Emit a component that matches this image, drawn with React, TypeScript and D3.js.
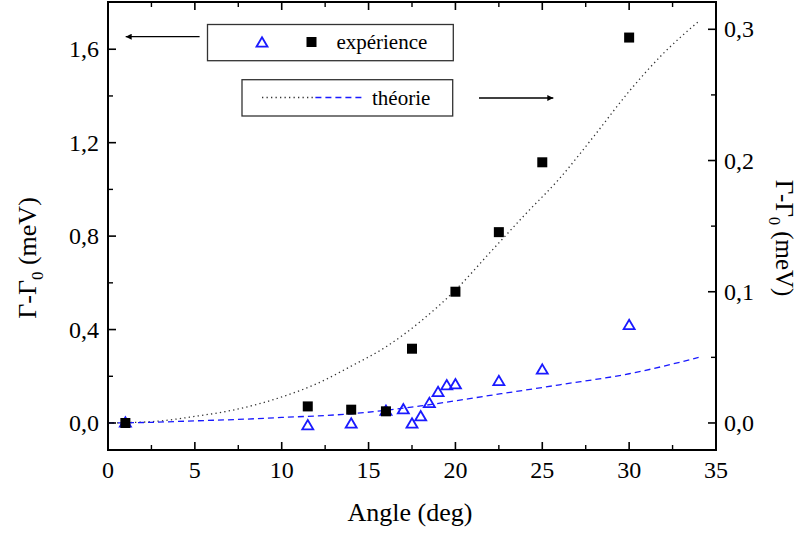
import React from "react";
import * as d3 from "d3";

// ---- data ----
const sqAngles = [1, 11.5, 14, 16, 17.5, 20, 22.5, 25, 30];
const sqValues = [0.0, 0.071, 0.057, 0.05, 0.318, 0.562, 0.817, 1.116, 1.65];

const triAngles = [1, 11.5, 14, 16, 17, 17.5, 18, 18.5, 19, 19.5, 20, 22.5, 25, 30];
const triValues = [0.005, -0.007, 0.0, 0.055, 0.061, 0.0, 0.031, 0.088, 0.135, 0.164, 0.168, 0.182, 0.231, 0.422];

const dotAngles = [0, 2.5, 5, 7.5, 10, 12, 14, 16, 18, 20, 22, 24, 26, 28, 30, 32, 34];
const dotValues = [0, 0.001, 0.005, 0.0107, 0.0198, 0.0298, 0.0433, 0.058, 0.0775, 0.1013, 0.13, 0.1587, 0.1864, 0.219, 0.2527, 0.282, 0.306];

const dashAngles = [0, 2.5, 5, 7.5, 10, 14, 18, 22, 26, 30, 34];
const dashValues = [0, 0.0005, 0.0016, 0.0027, 0.0042, 0.007, 0.013, 0.021, 0.0291, 0.0375, 0.0499];

const xMajor = [0, 5, 10, 15, 20, 25, 30, 35];
const xMinor = [2.5, 7.5, 12.5, 17.5, 22.5, 27.5, 32.5];
const yLeftMajor = [0, 0.4, 0.8, 1.2, 1.6];
const yLeftMinor = [0.2, 0.6, 1.0, 1.4];
const yRightMajor = [0, 0.1, 0.2, 0.3];
const yRightMinor = [0.05, 0.15, 0.25];

const legendExp = "expérience";
const legendTheo = "théorie";
const xTitle = "Angle (deg)";

// ---- layout ----
const W = 800, H = 533;
const L = 108, R = 716, T = 2, B = 450;
const FONT = "Liberation Serif, DejaVu Serif, serif";
const BLUE = "#1a1aff";

const x = d3.scaleLinear().domain([0, 35]).range([L, R]);
const yL = d3.scaleLinear().domain([-0.1156, 1.8022]).range([B, T]);
const yR = d3.scaleLinear().domain([-0.0206, 0.3208]).range([B, T]);
const fmt = (v: number) => d3.format(".1f")(v).replace(".", ",");

function Triangle({ cx, cy, s = 11 }: { cx: number; cy: number; s?: number }) {
  const h = s * 0.85;
  const d = `M${cx},${cy - h / 2}L${cx + s / 2},${cy + h / 2}L${cx - s / 2},${cy + h / 2}Z`;
  return <path d={d} fill="none" stroke={BLUE} strokeWidth={1.8} strokeLinejoin="miter" />;
}

export default function App() {
  const dotLine = d3
    .line<number>()
    .x((_, i) => x(dotAngles[i]))
    .y((v) => yR(v))
    .curve(d3.curveMonotoneX)(dotValues) as string;
  const dashLine = d3
    .line<number>()
    .x((_, i) => x(dashAngles[i]))
    .y((v) => yR(v))
    .curve(d3.curveMonotoneX)(dashValues) as string;

  const sq = 10;
  return (
    <svg width={W} height={H} style={{ position: "absolute", left: 0, top: 0, background: "#fff", fontFamily: FONT }}>
      <defs>
        <marker id="ah" viewBox="0 0 10 10" refX="10" refY="5" markerWidth="9" markerHeight="6" orient="auto-start-reverse" markerUnits="userSpaceOnUse">
          <path d="M0,0L10,5L0,10Z" fill="#000" />
        </marker>
      </defs>

      {/* theory curves */}
      <path d={dotLine} fill="none" stroke="#333" strokeWidth={1.3} strokeDasharray="1.3 3.2" />
      <path d={dashLine} fill="none" stroke={BLUE} strokeWidth={1.3} strokeDasharray="6 4" />

      {/* triangles */}
      {triAngles.map((a, i) => (
        <Triangle key={"t" + i} cx={x(a)} cy={yL(triValues[i])} />
      ))}
      {/* squares */}
      {sqAngles.map((a, i) => (
        <rect key={"s" + i} x={x(a) - sq / 2} y={yL(sqValues[i]) - sq / 2} width={sq} height={sq} fill="#000" />
      ))}

      {/* frame */}
      <rect x={L} y={T} width={R - L} height={B - T} fill="none" stroke="#000" strokeWidth={2} />

      {/* x ticks bottom and top */}
      {xMajor.map((v) => (
        <g key={"xm" + v}>
          <line x1={x(v)} x2={x(v)} y1={B} y2={B - 8} stroke="#000" strokeWidth={1.6} />
          <line x1={x(v)} x2={x(v)} y1={T} y2={T + 8} stroke="#000" strokeWidth={1.6} />
          <text x={x(v)} y={478} fontSize={24} textAnchor="middle" fontFamily={FONT}>{v}</text>
        </g>
      ))}
      {xMinor.map((v) => (
        <g key={"xn" + v}>
          <line x1={x(v)} x2={x(v)} y1={B} y2={B - 5} stroke="#000" strokeWidth={1.4} />
          <line x1={x(v)} x2={x(v)} y1={T} y2={T + 5} stroke="#000" strokeWidth={1.4} />
        </g>
      ))}

      {/* left axis */}
      {yLeftMajor.map((v) => (
        <g key={"ylm" + v}>
          <line x1={L} x2={L + 8} y1={yL(v)} y2={yL(v)} stroke="#000" strokeWidth={1.6} />
          <text x={99} y={yL(v) + 8} fontSize={24} textAnchor="end" fontFamily={FONT}>{fmt(v)}</text>
        </g>
      ))}
      {yLeftMinor.map((v) => (
        <line key={"yln" + v} x1={L} x2={L + 5} y1={yL(v)} y2={yL(v)} stroke="#000" strokeWidth={1.4} />
      ))}

      {/* right axis */}
      {yRightMajor.map((v) => (
        <g key={"yrm" + v}>
          <line x1={R} x2={R - 8} y1={yR(v)} y2={yR(v)} stroke="#000" strokeWidth={1.6} />
          <text x={724} y={yR(v) + 8} fontSize={24} textAnchor="start" fontFamily={FONT}>{fmt(v)}</text>
        </g>
      ))}
      {yRightMinor.map((v) => (
        <line key={"yrn" + v} x1={R} x2={R - 5} y1={yR(v)} y2={yR(v)} stroke="#000" strokeWidth={1.4} />
      ))}

      {/* axis titles */}
      <text x={(L + R) / 2 - 2} y={521} fontSize={26} textAnchor="middle" fontFamily={FONT}>{xTitle}</text>
      <text transform="translate(36,258) rotate(-90)" fontSize={26} textAnchor="middle" fontFamily={FONT}>
        Γ-Γ<tspan fontSize={17} dy={7}>0</tspan><tspan dy={-7}> (meV)</tspan>
      </text>
      <text transform="translate(776,238) rotate(90)" fontSize={25} textAnchor="middle" fontFamily={FONT}>
        Γ-Γ<tspan fontSize={16} dy={7}>0</tspan><tspan dy={-7}> (meV)</tspan>
      </text>

      {/* legend boxes */}
      <rect x={207.5} y={24.5} width={245.8} height={36.2} fill="#fff" stroke="#333" strokeWidth={1.3} />
      <Triangle cx={262} cy={42} />
      <rect x={311.5 - sq / 2} y={42 - sq / 2} width={sq} height={sq} fill="#000" />
      <text x={336.4} y={49} fontSize={21} fontFamily={FONT}>{legendExp}</text>

      <rect x={242} y={79.7} width={210.7} height={36.3} fill="#fff" stroke="#333" strokeWidth={1.3} />
      <line x1={262} x2={315.4} y1={97.5} y2={97.5} stroke="#333" strokeWidth={1.3} strokeDasharray="1.3 3.2" />
      <line x1={315.4} x2={361.6} y1={97.5} y2={97.5} stroke={BLUE} strokeWidth={1.3} strokeDasharray="6 4" />
      <text x={372} y={104.5} fontSize={21} fontFamily={FONT}>{legendTheo}</text>

      {/* arrows */}
      <line x1={199.6} x2={125.7} y1={36.7} y2={36.7} stroke="#000" strokeWidth={1.3} markerEnd="url(#ah)" />
      <line x1={479} x2={553.3} y1={98} y2={98} stroke="#000" strokeWidth={1.3} markerEnd="url(#ah)" />
    </svg>
  );
}
